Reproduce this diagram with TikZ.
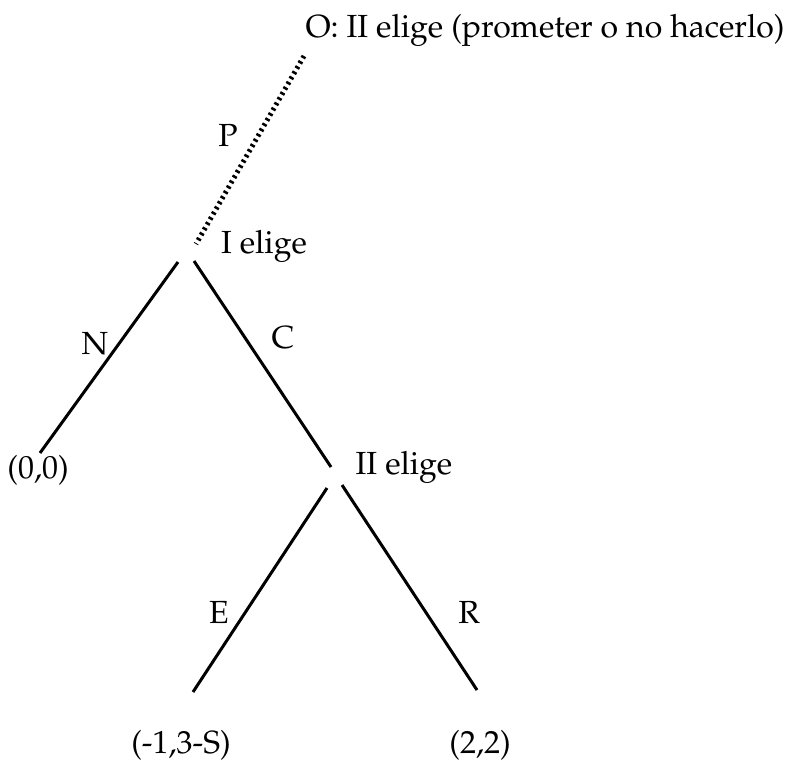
\documentclass[tikz,border=0pt]{standalone}
\usepackage[T1]{fontenc}
\usepackage{mathpazo}
\begin{document}
\begin{tikzpicture}[x=1pt,y=1pt,
  lbl/.style={inner sep=0pt,font=\fontsize{32}{36}\selectfont},
  branch/.style={line width=3pt},
  info/.style={line width=5pt,dash pattern=on 2.5pt off 3.5pt}]
\useasboundingbox (0,0) rectangle (793,-761);
% node points
\coordinate (o) at (304,-56);
\coordinate (i1) at (196,-244);
\coordinate (iL) at (178,-262);
\coordinate (iR) at (194,-261);
\coordinate (n0) at (40,-453);
\coordinate (iiT) at (331,-467);
\coordinate (iiL) at (327,-488);
\coordinate (iiR) at (342,-485);
\coordinate (e0) at (193,-692);
\coordinate (r0) at (477,-690);
% labels
\node[lbl] (title) at (545,-30) {O: II elige (prometer o no hacerlo)};
\node[lbl] (P) at (228,-135) {P};
\node[lbl] (Ie) at (264,-246) {I elige};
\node[lbl] (N) at (95,-344) {N};
\node[lbl] (C) at (283,-338) {C};
\node[lbl] (p00) at (38,-470) {(0,0)};
\node[lbl] (IIe) at (404,-467) {II elige};
\node[lbl] (E) at (219,-612) {E};
\node[lbl] (R) at (469,-612) {R};
\node[lbl] (pE) at (181,-745) {(-1,3-S)};
\node[lbl] (pR) at (480,-745) {(2,2)};
% connectors
\draw[info] (o) -- (i1);
\draw[branch] (iL) -- (n0);
\draw[branch] (iR) -- (iiT);
\draw[branch] (iiL) -- (e0);
\draw[branch] (iiR) -- (r0);
\end{tikzpicture}
\end{document}
